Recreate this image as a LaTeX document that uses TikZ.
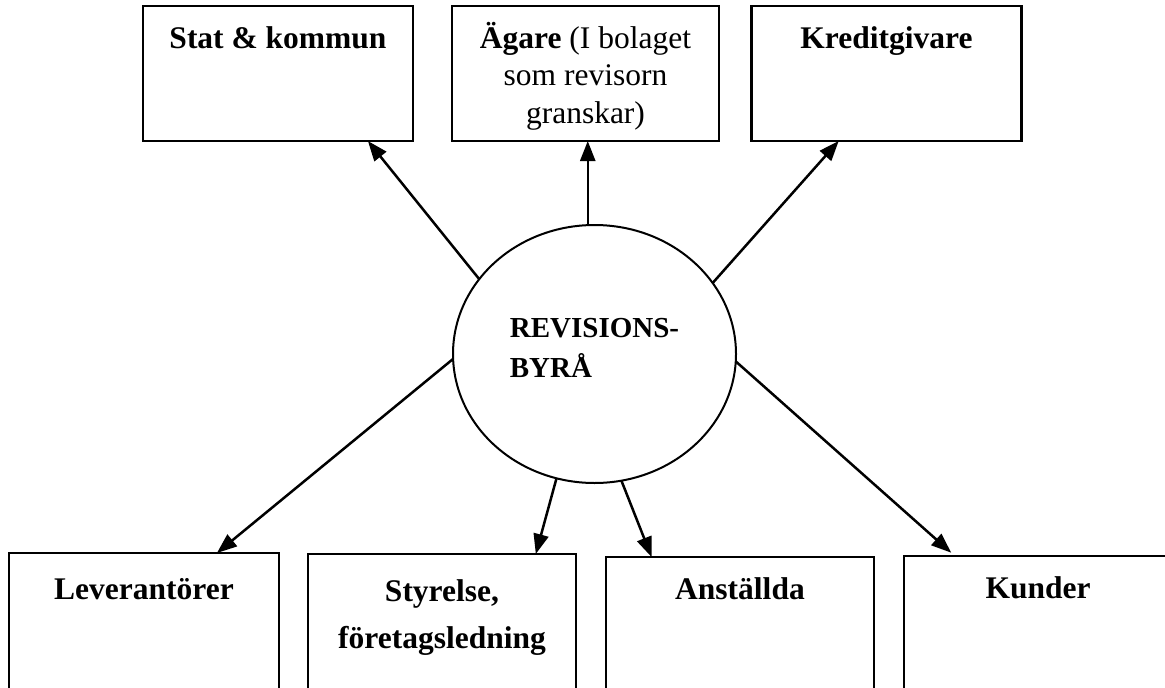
\documentclass[tikz,border=0pt]{standalone}
\usepackage{fontspec}
\setmainfont{Liberation Serif}
\usetikzlibrary{arrows.meta,shapes.geometric,calc}

\begin{document}
\begin{tikzpicture}[x=1pt,y=-1pt,
  box/.style={draw, line width=2.2pt, minimum width=270pt, minimum height=135pt, inner sep=0pt, outer sep=0pt, anchor=north},
  lbl/.style={font=\fontsize{31.5}{37.5}\selectfont, inner sep=0pt, align=center},
  hub/.style={draw, ellipse, line width=2pt, minimum width=283pt, minimum height=258pt, inner sep=0pt, outer sep=0pt, align=left, text depth=12pt, font=\bfseries\fontsize{29}{40}\selectfont},
  arr/.style={line width=2.5pt, -{Triangle[length=20pt,width=15pt]}}]
\useasboundingbox (0,0) rectangle (1165,688);
\clip (0,0) rectangle (1165,688);
% top row
\node[box] (stat) at (278,6) {};
\node[box, minimum width=267pt] (own) at (585.5,6) {};
\node[box] (kred) at (886.5,6) {};
\node[lbl, anchor=base] (statl) at ([yshift=-42pt]stat.north) {\textbf{Stat \& kommun}};
\node[lbl, anchor=north] (ownl) at ([yshift=-16pt]own.north) {\textbf{Ägare} (I bolaget\\som revisorn\\granskar)};
\node[lbl, anchor=base] (kredl) at ([yshift=-42pt]kred.north) {\textbf{Kreditgivare}};
% bottom row
\node[box, minimum height=139pt] (lev) at (144,553) {};
\node[box, minimum height=139pt, minimum width=268pt] (sty) at (442,554) {};
\node[box, minimum height=139pt, minimum width=268pt] (anst) at (740,557) {};
\node[box, minimum height=139pt, minimum width=268pt] (kund) at (1038,556) {};
\node[lbl, anchor=base] (levl) at ([yshift=-46pt]lev.north) {\textbf{Leverantörer}};
\node[lbl, anchor=north, font=\bfseries\fontsize{31.5}{47}\selectfont] (styl) at ([yshift=-25pt]sty.north) {Styrelse,\\företagsledning};
\node[lbl, anchor=base] (anstl) at ([yshift=-42pt]anst.north) {\textbf{Anställda}};
\node[lbl, anchor=base] (kundl) at ([yshift=-42pt]kund.north) {\textbf{Kunder}};
% centre
\node[hub] (hub) at (594.5,354) {REVISIONS-\\BYRÅ};
% arrows
\draw[arr] (hub.147.4) -- ($(stat.south west)!.833!(stat.south east)$);
\draw[arr] (hub.93) -- (hub.93 |- own.south);
\draw[arr] (hub.31.6) -- ($(kred.south west)!.323!(kred.south east)$);
\draw[arr] (hub.182) -- ($(lev.north west)!.77!(lev.north east)$);
\draw[arr] (hub.253.4) -- ($(sty.north west)!.85!(sty.north east)$);
\draw[arr] (hub.282.7) -- ($(anst.north west)!.17!(anst.north east)$);
\draw[arr, shorten >=5pt] (hub.357.6) -- ($(kund.north west)!.19!(kund.north east)$);
\end{tikzpicture}
\end{document}
